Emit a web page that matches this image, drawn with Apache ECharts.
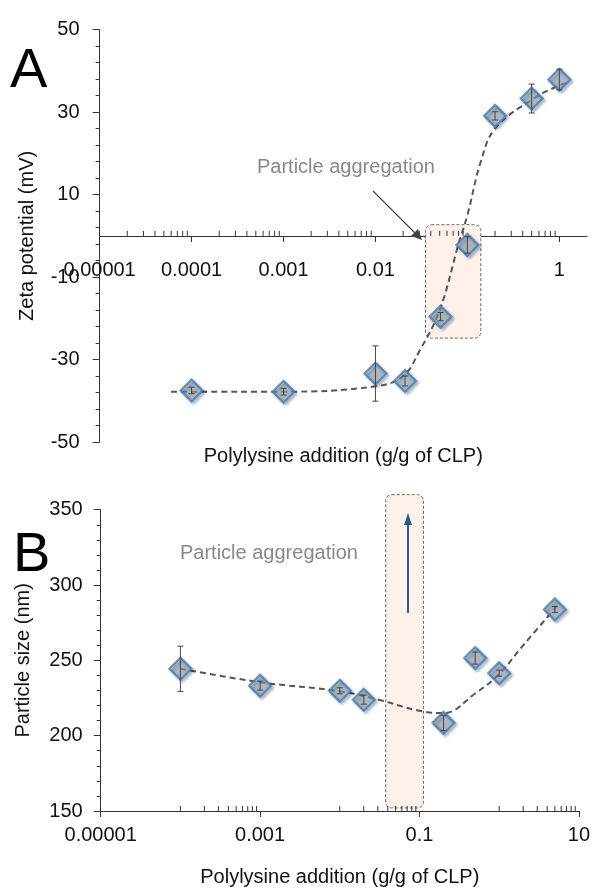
<!DOCTYPE html>
<html><head><meta charset="utf-8">
<script src="https://cdn.jsdelivr.net/npm/echarts@6/dist/echarts.min.js"></script>
<style>html,body{margin:0;padding:0;background:#fff}#c{width:593px;height:888px}</style>
</head><body><div id="c"></div>
<script>
// ---- Panel A data ----
const xA = [0.0001, 0.001, 0.01, 0.021, 0.051, 0.1, 0.2, 0.5, 1];
const zeta = [-37.5, -37.8, -33.4, -35.2, -19.6, -2.2, 29.1, 33.3, 37.9];
const zetaErr = [0.8, 0.8, 6.7, 1.2, 1.0, 2.0, 1.0, 3.5, 2.5];
const fitAx = [0.00006, 0.0001, 0.001, 0.01, 0.02, 0.03, 0.05, 0.08, 0.1, 0.14, 0.2, 0.5, 1, 1.3];
const fitAy = [-37.8, -37.8, -37.8, -36.5, -34, -28, -18, -2, 5, 18, 26, 33, 36.5, 37.2];
const aggA = [0.035, 0.14, 2.7, -24.8];
const xTicksA = [0.00001, 0.0001, 0.001, 0.01, 0.1, 1];
const xLabelsA = ['0.00001', '0.0001', '0.001', '0.01', '0.1', '1'];
// ---- Panel B data ----
const xB = [0.0001, 0.001, 0.01, 0.02, 0.2, 0.5, 1, 5];
const size = [244.4, 233.2, 229.8, 223.9, 208.5, 251.5, 241.5, 283.8];
const sizeErr = [15, 3, 2, 3, 5, 4, 2, 2];
const fitBx = [0.0001, 0.001, 0.01, 0.03, 0.1, 0.2, 0.5, 1, 2, 5.5];
const fitBy = [244.5, 235.5, 229.5, 224, 216.5, 215, 228, 241, 260, 287];
const aggB = [0.0377, 0.112, 152, 360];
const xTicksB = [0.00001, 0.001, 0.1, 10];
const xLabelsB = ['0.00001', '0.001', '0.1', '10'];

const minorA = [], minorB = [];
for (let e = -5; e <= 0; e++) for (let k = 2; k <= 9; k++) { const v = k * Math.pow(10, e); if (v < 2) minorA.push(v); }
for (const e of [-4, -2, 0]) for (let k = 1; k <= 9; k++) minorB.push(k * Math.pow(10, e));

const FONT = 'Liberation Sans, Arial, sans-serif';
const chart = echarts.init(document.getElementById('c'));

function errSeries(xi, yi, xs, ys, es) {
  return { type: 'custom', xAxisIndex: xi, yAxisIndex: yi, z: 5, silent: true,
    data: xs.map((x, i) => [x, ys[i] - es[i], ys[i] + es[i]]),
    renderItem: (p, api) => {
      const a = api.coord([api.value(0), api.value(1)]), b = api.coord([api.value(0), api.value(2)]);
      const st = { stroke: '#444', lineWidth: 1 };
      return { type: 'group', children: [
        { type: 'line', shape: { x1: a[0], y1: a[1], x2: b[0], y2: b[1] }, style: st },
        { type: 'line', shape: { x1: a[0] - 3, y1: a[1], x2: a[0] + 3, y2: a[1] }, style: st },
        { type: 'line', shape: { x1: b[0] - 3, y1: b[1], x2: b[0] + 3, y2: b[1] }, style: st }] };
    } };
}
function minorSeries(xi, yi, vals, y0) {
  return { type: 'custom', xAxisIndex: xi, yAxisIndex: yi, z: 3, silent: true,
    data: vals.map(v => [v, y0]),
    renderItem: (p, api) => { const c = api.coord([api.value(0), api.value(1)]);
      return { type: 'line', shape: { x1: c[0], y1: c[1], x2: c[0], y2: c[1] - 5 }, style: { stroke: '#333', lineWidth: 1 } }; } };
}
function aggSeries(xi, yi, r) {
  return { type: 'custom', xAxisIndex: xi, yAxisIndex: yi, z: 1, silent: true,
    data: [r],
    renderItem: (p, api) => { const a = api.coord([api.value(0), api.value(3)]), b = api.coord([api.value(1), api.value(2)]);
      return { type: 'rect', shape: { x: a[0], y: a[1], width: b[0] - a[0], height: b[1] - a[1], r: 6 },
        style: { fill: '#fdf1ea', stroke: '#666', lineWidth: 1, lineDash: [3, 2] } }; } };
}
function scatter(xi, yi, xs, ys) {
  return { type: 'scatter', xAxisIndex: xi, yAxisIndex: yi, z: 4, symbol: 'diamond', symbolSize: [22, 22],
    data: xs.map((x, i) => [x, ys[i]]),
    itemStyle: { color: 'rgba(150,168,185,0.75)', borderColor: '#3a7fc1', borderWidth: 2.2,
      shadowColor: 'rgba(0,0,0,0.35)', shadowBlur: 3, shadowOffsetX: 2, shadowOffsetY: 2 } };
}
function fit(xi, yi, xs, ys) {
  return { type: 'line', xAxisIndex: xi, yAxisIndex: yi, z: 3, smooth: 0.4, symbol: 'none',
    data: xs.map((x, i) => [x, ys[i]]), lineStyle: { color: '#555', width: 2, type: [6, 4] } };
}
const axLine = { lineStyle: { color: '#333', width: 1 } };
const lbl = { color: '#111', fontFamily: FONT, fontSize: 20 };

chart.setOption({
  animation: false,
  grid: [
    { left: 99.6, right: 6, top: 29.7, height: 412.3 },
    { left: 100.7, right: 10.5, top: 509.7, height: 354.7 }],
  xAxis: [
    { type: 'log', gridIndex: 0, min: 0.00001, max: 2, position: 'bottom', offset: -206,
      axisLine: { ...axLine, onZero: false },
      splitLine: { show: false },
      axisTick: { customValues: xTicksA, length: 6, lineStyle: { color: '#333' } },
      axisLabel: { ...lbl, customValues: xTicksA, margin: 24, formatter: v => xLabelsA[xTicksA.findIndex(t => Math.abs(t - v) / t < 1e-6)] || '' },
      name: 'Polylysine addition (g/g of CLP)', nameLocation: 'middle', nameGap: 210,
      nameTextStyle: { ...lbl } },
    { type: 'log', gridIndex: 1, min: 0.00001, max: 10, axisLine: axLine,
      splitLine: { show: false },
      axisTick: { customValues: xTicksB, length: 6, lineStyle: { color: '#333' } },
      axisLabel: { ...lbl, customValues: xTicksB, margin: 14, formatter: v => xLabelsB[xTicksB.findIndex(t => Math.abs(t - v) / t < 1e-6)] || '' },
      name: 'Polylysine addition (g/g of CLP)', nameLocation: 'middle', nameGap: 56,
      nameTextStyle: { ...lbl } }],
  yAxis: [
    { type: 'value', gridIndex: 0, min: -50, max: 50, interval: 20, axisLine: { show: true, ...axLine },
      splitLine: { show: false }, axisTick: { length: 7, lineStyle: { color: '#333' } },
      minorTick: { show: true, splitNumber: 5, length: 4, lineStyle: { color: '#333' } },
      axisLabel: { ...lbl, margin: 20 },
      name: 'Zeta potential (mV)', nameLocation: 'middle', nameGap: 62, nameTextStyle: { ...lbl } },
    { type: 'value', gridIndex: 1, min: 150, max: 350, interval: 50, axisLine: { show: true, ...axLine },
      splitLine: { show: false }, axisTick: { length: 7, lineStyle: { color: '#333' } },
      minorTick: { show: true, splitNumber: 5, length: 4, lineStyle: { color: '#333' } },
      axisLabel: { ...lbl, margin: 18 },
      name: 'Particle size (nm)', nameLocation: 'middle', nameGap: 67, nameTextStyle: { ...lbl } }],
  series: [
    aggSeries(0, 0, aggA), minorSeries(0, 0, minorA, 0), fit(0, 0, fitAx, fitAy), scatter(0, 0, xA, zeta), errSeries(0, 0, xA, zeta, zetaErr),
    aggSeries(1, 1, aggB), minorSeries(1, 1, minorB, 150), fit(1, 1, fitBx, fitBy), scatter(1, 1, xB, size), errSeries(1, 1, xB, size, sizeErr)],
  graphic: [
    { type: 'text', z: 100, left: 10, top: 44, style: { text: 'A', font: '56px ' + FONT, fill: '#000' } },
    { type: 'text', z: 100, left: 13, top: 528, style: { text: 'B', font: '56px ' + FONT, fill: '#000' } },
    { type: 'text', z: 100, left: 257, top: 157, style: { text: 'Particle aggregation', font: '20px ' + FONT, fill: '#888' } },
    { type: 'text', z: 100, left: 180, top: 543, style: { text: 'Particle aggregation', font: '20px ' + FONT, fill: '#888' } },
    { type: 'line', z: 100, shape: { x1: 373, y1: 191, x2: 418, y2: 236 }, style: { stroke: '#444', lineWidth: 1.2 } },
    { type: 'polygon', z: 100, shape: { points: [[422, 240], [411, 236], [418, 229]] }, style: { fill: '#444' } },
    { type: 'line', z: 100, shape: { x1: 408, y1: 613, x2: 408, y2: 524 }, style: { stroke: '#2a5a88', lineWidth: 2 } },
    { type: 'polygon', z: 100, shape: { points: [[408, 513], [404, 525], [412, 525]] }, style: { fill: '#2a5a88' } }]
});
</script></body></html>
